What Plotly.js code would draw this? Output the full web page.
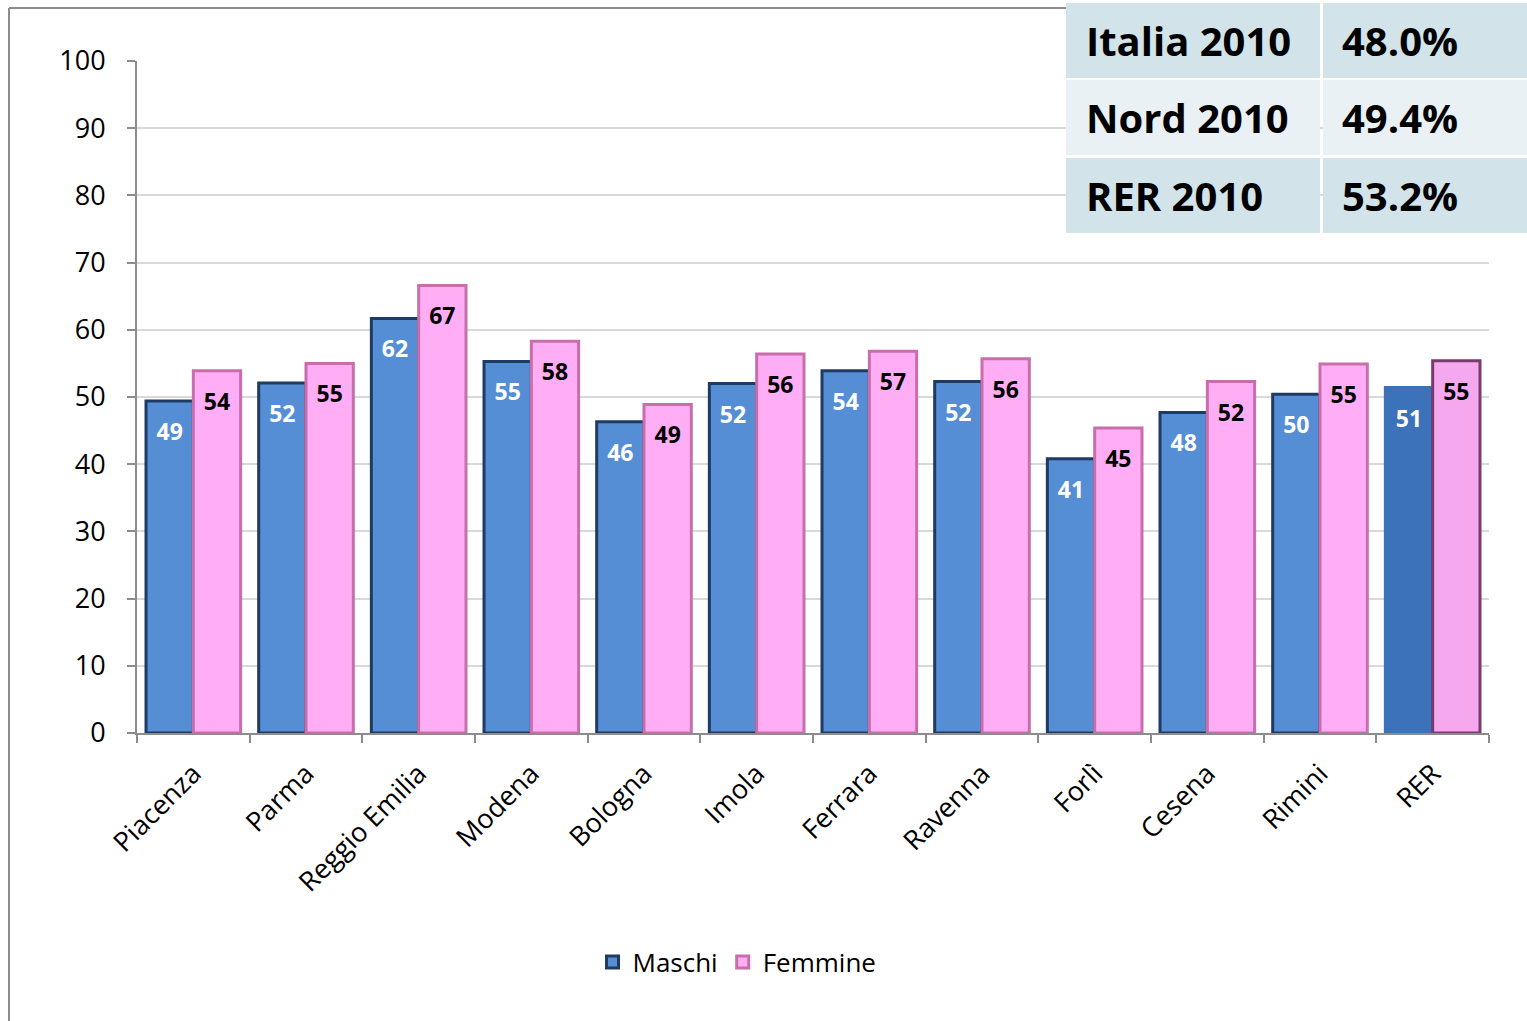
<!DOCTYPE html>
<html><head><meta charset="utf-8">
<script src="https://cdn.plot.ly/plotly-3.0.1.min.js"></script>
<style>html,body{margin:0;padding:0;background:#fff}#chart{width:1527px;height:1021px}</style>
</head><body><div id="chart"></div>
<script>
const categories = ["Piacenza","Parma","Reggio Emilia","Modena","Bologna","Imola","Ferrara","Ravenna","Forlì","Cesena","Rimini","RER"];
const maschi   = [49.4, 52.1, 61.7, 55.3, 46.3, 52.0, 53.9, 52.3, 40.8, 47.7, 50.4, 51.4];
const femmine  = [53.9, 55.0, 66.6, 58.3, 48.9, 56.4, 56.8, 55.7, 45.4, 52.3, 54.9, 55.4];
const tableLabels = ["Italia 2010","Nord 2010","RER 2010"];
const tableValues = ["48.0%","49.4%","53.2%"];

const W = 1527, H = 1021;
const L = 137, R = 1489, T = 61, B = 733;
const px = x => (x - L) / (R - L);
const py = y => (B - y) / (B - T);

const mFill = categories.map((c,i)=> i===categories.length-1 ? '#3b72b9' : '#558ed5');
const mLine = categories.map((c,i)=> i===categories.length-1 ? '#3b72b9' : '#1f3b63');
const fFill = categories.map((c,i)=> i===categories.length-1 ? '#f6a8ef' : '#ffadf5');
const fLine = categories.map((c,i)=> i===categories.length-1 ? '#7a3a6c' : '#c76fab');

// invisible tall spacer pushes the value label down from the bar top
const pad = '<span style="font-size:34px">&nbsp;</span>';
const tmpl = pad + '%{y:.0f}' + pad;

const traces = [
  {type:'bar', name:'Maschi', x:categories, y:maschi,
   marker:{color:mFill, line:{color:mLine, width:3}},
   texttemplate:tmpl, textposition:'inside', insidetextanchor:'end',
   textangle:0, constraintext:'none',
   textfont:{family:'Open Sans, sans-serif', size:23, color:'#ffffff', weight:'bold'},
   hoverinfo:'skip'},
  {type:'bar', name:'Femmine', x:categories, y:femmine,
   marker:{color:fFill, line:{color:fLine, width:3}},
   texttemplate:tmpl, textposition:'inside', insidetextanchor:'end',
   textangle:0, constraintext:'none',
   textfont:{family:'Open Sans, sans-serif', size:23, color:'#000000', weight:'bold'},
   hoverinfo:'skip'}
];

const shapes = [];
const annotations = [];
const rowTops = [3, 80, 158];
const rowH = 75;
const rowColors = ['#d2e3ea', '#e9f1f4', '#d2e3ea'];
tableLabels.forEach((lab, i) => {
  const y0 = rowTops[i], y1 = rowTops[i] + rowH;
  shapes.push({type:'rect', xref:'paper', yref:'paper', x0:px(1066), x1:px(1320), y0:py(y1), y1:py(y0),
    fillcolor:rowColors[i], line:{width:0}, layer:'above'});
  shapes.push({type:'rect', xref:'paper', yref:'paper', x0:px(1323), x1:px(1527), y0:py(y1), y1:py(y0),
    fillcolor:rowColors[i], line:{width:0}, layer:'above'});
  annotations.push({xref:'paper', yref:'paper', x:px(1084), y:py((y0+y1)/2), xanchor:'left', yanchor:'middle',
    text:'<b>'+lab+'</b>', showarrow:false, font:{family:'Open Sans, sans-serif', size:40, color:'#000'}});
  annotations.push({xref:'paper', yref:'paper', x:px(1340), y:py((y0+y1)/2), xanchor:'left', yanchor:'middle',
    text:'<b>'+tableValues[i]+'</b>', showarrow:false, font:{family:'Open Sans, sans-serif', size:40, color:'#000'}});
});
shapes.push({type:'line', xref:'paper', yref:'paper', x0:px(9), x1:px(9), y0:py(1030), y1:py(8), line:{color:'#8c8c8c', width:2}, layer:'below'});
shapes.push({type:'line', xref:'paper', yref:'paper', x0:px(9), x1:px(1066), y0:py(8), y1:py(8), line:{color:'#8c8c8c', width:2}, layer:'below'});

const layout = {
  width:W, height:H,
  margin:{l:L, r:W-R, t:T, b:H-B, autoexpand:false},
  paper_bgcolor:'#fff', plot_bgcolor:'#fff',
  barmode:'group', bargap:0.16, bargroupgap:0,
  font:{family:'Open Sans, sans-serif', color:'#000'},
  showlegend:true,
  legend:{orientation:'h', x:px(737), xanchor:'center', y:py(962), yanchor:'middle',
    font:{size:26, family:'Open Sans, sans-serif'}, itemwidth:30, traceorder:'normal'},
  xaxis:{type:'category', tickangle:-45, tickson:'boundaries', ticks:'outside', ticklen:8, tickcolor:'#8c8c8c', tickwidth:2,
    showline:true, linecolor:'#8c8c8c', linewidth:2, showgrid:false, ticklabelstandoff:12,
    tickfont:{size:27, family:'Open Sans, sans-serif', color:'#000'}},
  yaxis:{range:[0,100], dtick:10, ticks:'outside', ticklen:8, tickcolor:'#8c8c8c', tickwidth:2,
    showline:true, linecolor:'#8c8c8c', linewidth:2, showgrid:true, gridcolor:'#d9d9d9', gridwidth:2,
    zeroline:false, ticklabelstandoff:16,
    tickfont:{size:27, family:'Open Sans, sans-serif', color:'#000'}},
  shapes:shapes, annotations:annotations
};
Plotly.newPlot('chart', traces, layout, {staticPlot:true});
</script></body></html>
